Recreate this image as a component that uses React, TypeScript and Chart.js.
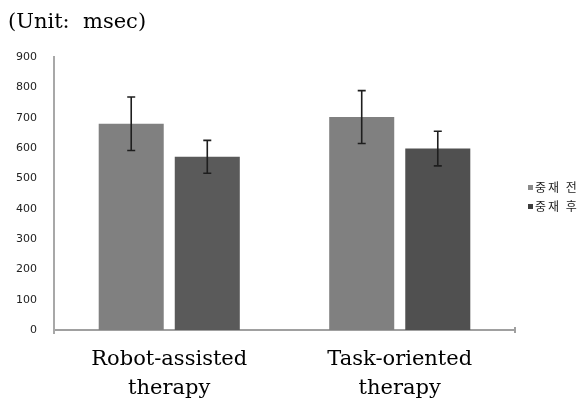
import React, { useEffect, useRef } from "react";
import { Chart, registerables } from "chart.js";

Chart.register(...registerables);

const categories: string[][] = [
  ["Robot-assisted", "therapy"],
  ["Task-oriented", "therapy"],
];
const seriesNames = ["중재 전", "중재 후"];
const beforeValues = [680, 702];
const afterValues = [571, 598];
const beforeErrors = [88, 87];
const afterErrors = [54, 57];
const yTicks = [0, 100, 200, 300, 400, 500, 600, 700, 800, 900];
const unitLabel = "(Unit:  msec)";

const errorsByDataset = [beforeErrors, afterErrors];

const errorBarPlugin = {
  id: "errorBars",
  afterDatasetsDraw(chart: any) {
    const ctx = chart.ctx;
    const yScale = chart.scales.y;
    ctx.save();
    ctx.strokeStyle = "#1e1e1e";
    ctx.lineWidth = 1.6;
    chart.data.datasets.forEach((ds: any, di: number) => {
      const meta = chart.getDatasetMeta(di);
      meta.data.forEach((bar: any, i: number) => {
        const v = ds.data[i];
        const e = errorsByDataset[di][i];
        const x = bar.x;
        const yTop = yScale.getPixelForValue(v + e);
        const yBot = yScale.getPixelForValue(v - e);
        const cap = 4;
        ctx.beginPath();
        ctx.moveTo(x, yTop);
        ctx.lineTo(x, yBot);
        ctx.moveTo(x - cap, yTop);
        ctx.lineTo(x + cap, yTop);
        ctx.moveTo(x - cap, yBot);
        ctx.lineTo(x + cap, yBot);
        ctx.stroke();
      });
    });
    ctx.restore();
  },
};

const legendColors = ["#8a8a8a", "#3c3c3c"];

const decorPlugin = {
  id: "decor",
  afterDraw(chart: any) {
    const ctx = chart.ctx;
    const area = chart.chartArea;
    ctx.save();
    // title
    ctx.fillStyle = "#000";
    ctx.font = '21px "DejaVu Serif"';
    ctx.textBaseline = "alphabetic";
    ctx.textAlign = "left";
    ctx.fillText(unitLabel, 8, 28);
    // legend
    ctx.font = '12px "Noto Sans CJK KR"';
    ctx.textBaseline = "middle";
    const lx = area.right + 13;
    const midY = (area.top + area.bottom) / 2;
    seriesNames.forEach((name, i) => {
      const y = midY - 6 + i * 19;
      ctx.fillStyle = legendColors[i];
      ctx.fillRect(lx, y - 2.5, 5, 5);
      ctx.fillStyle = "#222";
      let tx = lx + 7;
      for (const ch of name) {
        ctx.fillText(ch, tx, y);
        tx += ctx.measureText(ch).width + 2;
      }
    });
    // right end tick
    ctx.strokeStyle = "#a0a0a0";
    ctx.lineWidth = 2;
    ctx.beginPath();
    ctx.moveTo(area.right, area.bottom - 3);
    ctx.lineTo(area.right, area.bottom + 3);
    ctx.stroke();
    // y axis slight extension below
    ctx.strokeStyle = "#a8a8a8";
    ctx.beginPath();
    ctx.moveTo(area.left, area.bottom);
    ctx.lineTo(area.left, area.bottom + 4);
    ctx.stroke();
    ctx.restore();
  },
};

export default function App() {
  const ref = useRef<HTMLCanvasElement | null>(null);
  useEffect(() => {
    if (!ref.current) return;
    const chart = new Chart(ref.current, {
      type: "bar",
      data: {
        labels: categories,
        datasets: [
          {
            label: seriesNames[0],
            data: beforeValues,
            backgroundColor: "#808080",
            borderWidth: 0,
          },
          {
            label: seriesNames[1],
            data: afterValues,
            backgroundColor: ["#5a5a5a", "#505050"],
            borderWidth: 0,
          },
        ],
      },
      options: {
        animation: false,
        responsive: false,
        maintainAspectRatio: false,
        layout: { padding: { top: 57, right: 65, left: 0, bottom: 0 } },
        plugins: {
          legend: { display: false },
          tooltip: { enabled: false },
          title: { display: false },
        },
        datasets: {
          bar: { categoryPercentage: 0.66, barPercentage: 0.855 },
        },
        scales: {
          x: {
            grid: { display: false, drawTicks: false },
            border: { display: true, color: "#a0a0a0", width: 2 },
            ticks: {
              color: "#000",
              font: { family: '"DejaVu Serif"', size: 21, lineHeight: 1.38 },
              padding: 15,
              maxRotation: 0,
            },
            afterFit: (s: any) => {
              s.height = 75;
            },
          },
          y: {
            min: 0,
            max: 900,
            afterBuildTicks: (s: any) => {
              s.ticks = yTicks.map((v) => ({ value: v }));
            },
            grid: { display: false, drawTicks: false },
            border: { display: true, color: "#a8a8a8", width: 2 },
            ticks: {
              color: "#222",
              font: { family: '"DejaVu Sans"', size: 11 },
              padding: 17,
            },
            afterFit: (s: any) => {
              s.width = 54;
            },
          },
        },
      },
      plugins: [errorBarPlugin, decorPlugin],
    });
    return () => chart.destroy();
  }, []);
  return (
    <div style={{ position: "fixed", left: 0, top: 0, width: 580, height: 405, background: "#fff" }}>
      <canvas ref={ref} width={580} height={405} style={{ width: 580, height: 405 }} />
    </div>
  );
}
